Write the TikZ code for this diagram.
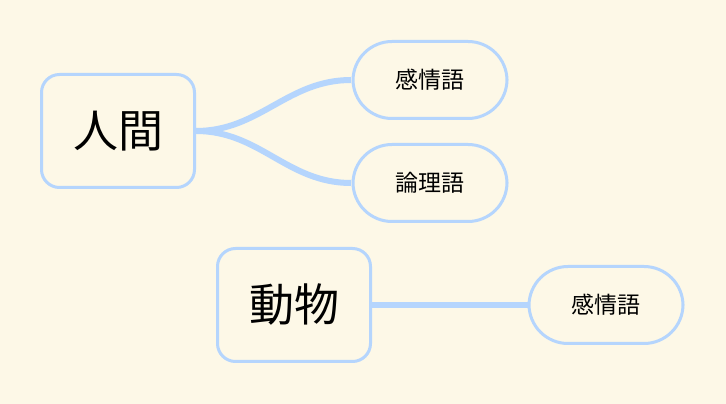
\documentclass[tikz,border=0pt]{standalone}
\usepackage{fontspec}
\setmainfont{Noto Sans CJK JP}
\begin{document}
\begin{tikzpicture}[x=1pt,y=1pt]
    % Define styles
    \tikzset{
        topic/.style={draw=edgeblue, line width=3pt, rounded corners=18pt, minimum width=153pt, minimum height=113pt, font=\fontsize{45}{48}\selectfont},
        leaf/.style={draw=edgeblue, line width=3pt, rounded corners=39pt, minimum width=154pt, minimum height=77pt, font=\fontsize{23}{26}\selectfont},
        branch/.style={draw=edgeblue, line width=6pt}
    }
    \definecolor{edgeblue}{HTML}{B5D5FD}
    \definecolor{paper}{HTML}{FDF8E7}

    % Background
    \fill[paper] (0,0) rectangle (726,404);
    \useasboundingbox (0,0) rectangle (726,404);

    % Branches
    \coordinate (hroot) at (196,273);
    \coordinate (droot) at (372,99);
    \draw[branch] (hroot) to[out=0, in=180] (351,324);
    \draw[branch] (hroot) to[out=0, in=180] (351,221);
    \draw[branch] (droot) -- (528,99);

    % Nodes
    \node[topic, fill=paper] (human) at (118,273) {人間};
    \node[leaf, fill=paper] (emoA) at (430,324) {感情語};
    \node[leaf, fill=paper] (logic) at (430,221) {論理語};
    \node[topic, fill=paper] (animal) at (294,99) {動物};
    \node[leaf, fill=paper] (emoB) at (606,99) {感情語};
\end{tikzpicture}
\end{document}
